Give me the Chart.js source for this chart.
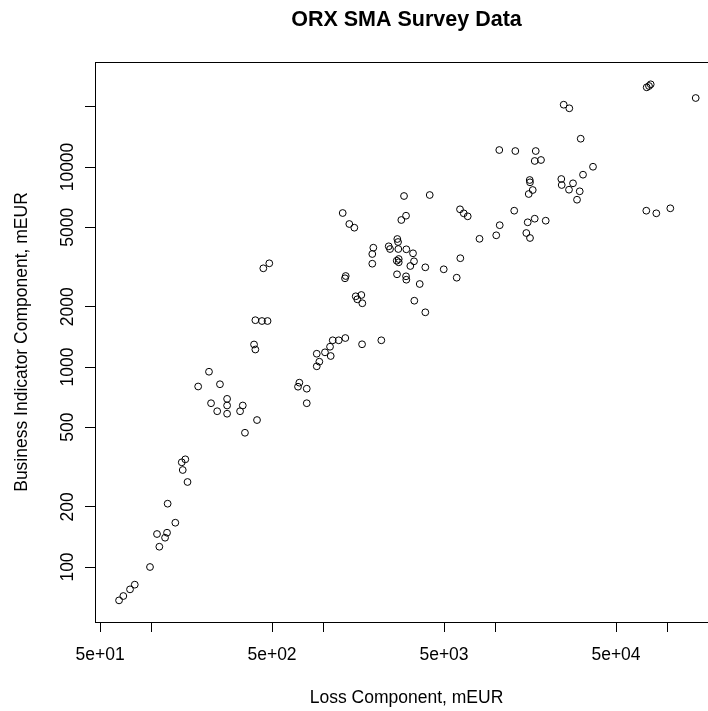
<!DOCTYPE html>
<html>
<head>
<meta charset="utf-8">
<script src="https://cdn.jsdelivr.net/npm/chart.js@4/dist/chart.umd.min.js"></script>
<style>
html,body{margin:0;padding:0;background:#fff;overflow:hidden;width:708px;height:711px}
canvas{display:block}
</style>
</head>
<body>
<canvas id="c" width="730" height="711" style="width:730px;height:711px"></canvas>
<script>
const chartTitle = "ORX SMA Survey Data";
const xAxisTitle = "Loss Component, mEUR";
const yAxisTitle = "Business Indicator Component, mEUR";

// Loss Component (mEUR), one entry per bank
const lossComponent = [
  64.5, 68.3, 74.7, 79.6, 97.6, 110.6, 119.4, 107.2, 122.6, 137.0, 123.6, 161.3, 151.3, 149.3, 156.6,
  348, 409, 274, 240, 326, 274, 338, 221, 274, 186, 249, 215, 393, 400, 400, 437, 471, 445, 482,
  721, 708, 796, 796, 910, 942, 910, 1016, 1097, 1087, 1127, 1221, 1334, 1669, 2160,
  2927, 4129, 1288, 1407, 1505, 3007, 2823, 6194, 6510, 6867, 12800, 10540, 10060, 8042,
  1941, 1914, 1914, 2385, 2427, 2676, 2702, 2712, 3019, 3302, 3346, 3185, 2655, 2727, 2727, 3893,
  4981, 6220, 5926, 2665, 3007, 3019, 3612, 1341, 1328, 1533, 1653, 1566, 1675, 3360, 3893,
  75420, 77780, 79560, 145350, 24820, 26760, 31170, 10480, 12990, 17070, 16840, 18320, 36750, 32150,
  15750, 15810, 16400, 15540, 24040, 24170, 28120, 26650, 30760, 29670, 15330, 16840, 19510, 15050,
  15810, 75020, 85770, 103450
];

// Business Indicator Component (mEUR), same order
const biComponent = [
  68.1, 71.6, 77.3, 81.6, 100, 126.3, 140.1, 146.2, 148.4, 166.5, 207.3, 266.1, 305.5, 333.8, 345.5,
  469, 543, 584, 601, 601, 642, 642, 659, 693, 799, 820, 947, 1296, 1223, 1714, 1698, 1698, 3115, 3300,
  835, 797, 779, 659, 1165, 1063, 1008, 1184, 1135, 1263, 1360, 1360, 1396, 1299, 1360,
  7161, 7244, 5888, 5188, 4972, 5708, 5433, 6145, 5868, 5669, 6047, 5117, 4555, 4375,
  3949, 3673, 3285, 4013, 3890, 4365, 4217, 3890, 3877, 3703, 3377, 3199, 3400, 3467, 3339, 3151,
  3080, 3499, 2796, 2908, 2841, 2732, 2600, 2851, 2777, 2257, 2291, 2180, 2083, 2145, 1877,
  25030, 25410, 25910, 22130, 20490, 19660, 13850, 12160, 12020, 12020, 10720, 10840, 10030, 9153,
  8610, 8385, 7674, 7328, 8710, 8128, 8289, 7701, 7560, 6862, 5291, 5515, 5389, 4677,
  4416, 6047, 5868, 6216
];

const xTickValues = [50, 100, 500, 1000, 5000, 10000, 50000, 100000];
const xTickLabels = ["5e+01", "", "5e+02", "", "5e+03", "", "5e+04", ""];
const yTickValues = [100, 200, 500, 1000, 2000, 5000, 10000, 20000];
const yTickLabels = ["100", "200", "500", "1000", "2000", "5000", "10000", ""];

const xRange = [46.74, 195900];
const yRange = [53.09, 33500];

const points = lossComponent.map((v, i) => ({ x: v, y: biComponent[i] }));

const FONT = "'Liberation Sans', Arial, Helvetica, sans-serif";

const boxPlugin = {
  id: 'plotBox',
  afterDraw(chart) {
    const { ctx, chartArea: a } = chart;
    ctx.save();
    ctx.strokeStyle = '#000';
    ctx.lineWidth = 1;
    ctx.strokeRect(Math.round(a.left) + 0.5, Math.round(a.top) + 0.5,
                   Math.round(a.right - a.left), Math.round(a.bottom - a.top));
    ctx.restore();
  }
};

new Chart(document.getElementById('c').getContext('2d'), {
  type: 'scatter',
  data: {
    datasets: [{
      data: points,
      pointStyle: 'circle',
      pointRadius: 3.4,
      pointHoverRadius: 3.4,
      borderWidth: 1,
      borderColor: '#000',
      backgroundColor: 'rgba(0,0,0,0)'
    }]
  },
  options: {
    responsive: false,
    animation: false,
    devicePixelRatio: 1,
    events: [],
    layout: { padding: { left: 0, right: 12, top: 0, bottom: 0 } },
    plugins: {
      legend: { display: false },
      tooltip: { enabled: false },
      title: {
        display: true,
        text: chartTitle,
        fullSize: false,
        color: '#000',
        font: { family: FONT, size: 21.5, weight: 'bold' },
        padding: { top: 7, bottom: 29.2 }
      }
    },
    scales: {
      x: {
        type: 'logarithmic',
        position: 'bottom',
        min: xRange[0],
        max: xRange[1],
        afterBuildTicks: s => { s.ticks = xTickValues.map(v => ({ value: v })); },
        afterFit: s => { s.height = 89; s.paddingLeft = 0; s.paddingRight = 0; },
        grid: { display: true, drawOnChartArea: false, drawTicks: true, tickLength: 10, tickColor: '#000', tickWidth: 1 },
        border: { display: true, color: '#000', width: 1 },
        ticks: {
          autoSkip: false, minRotation: 0, maxRotation: 0, padding: 12.5,
          color: '#000', font: { family: FONT, size: 17.5 },
          callback: (v, i) => xTickLabels[i]
        },
        title: {
          display: true, text: xAxisTitle, color: '#000',
          font: { family: FONT, size: 17.5 }, padding: { top: 0, bottom: 2.5 }
        }
      },
      y: {
        type: 'logarithmic',
        position: 'left',
        min: yRange[0],
        max: yRange[1],
        afterBuildTicks: s => { s.ticks = yTickValues.map(v => ({ value: v })); },
        afterFit: s => { s.width = 95; s.paddingTop = 0; s.paddingBottom = 0; },
        grid: { display: true, drawOnChartArea: false, drawTicks: true, tickLength: 10, tickColor: '#000', tickWidth: 1 },
        border: { display: true, color: '#000', width: 1 },
        ticks: {
          autoSkip: false, minRotation: 90, maxRotation: 90, crossAlign: 'center', padding: -7.3,
          color: '#000', font: { family: FONT, size: 17.5 },
          callback: (v, i) => yTickLabels[i]
        },
        title: {
          display: true, text: yAxisTitle, color: '#000',
          font: { family: FONT, size: 17.5 }, padding: { top: 11.5, bottom: 0 }
        }
      }
    }
  },
  plugins: [boxPlugin]
});
</script>
</body>
</html>
